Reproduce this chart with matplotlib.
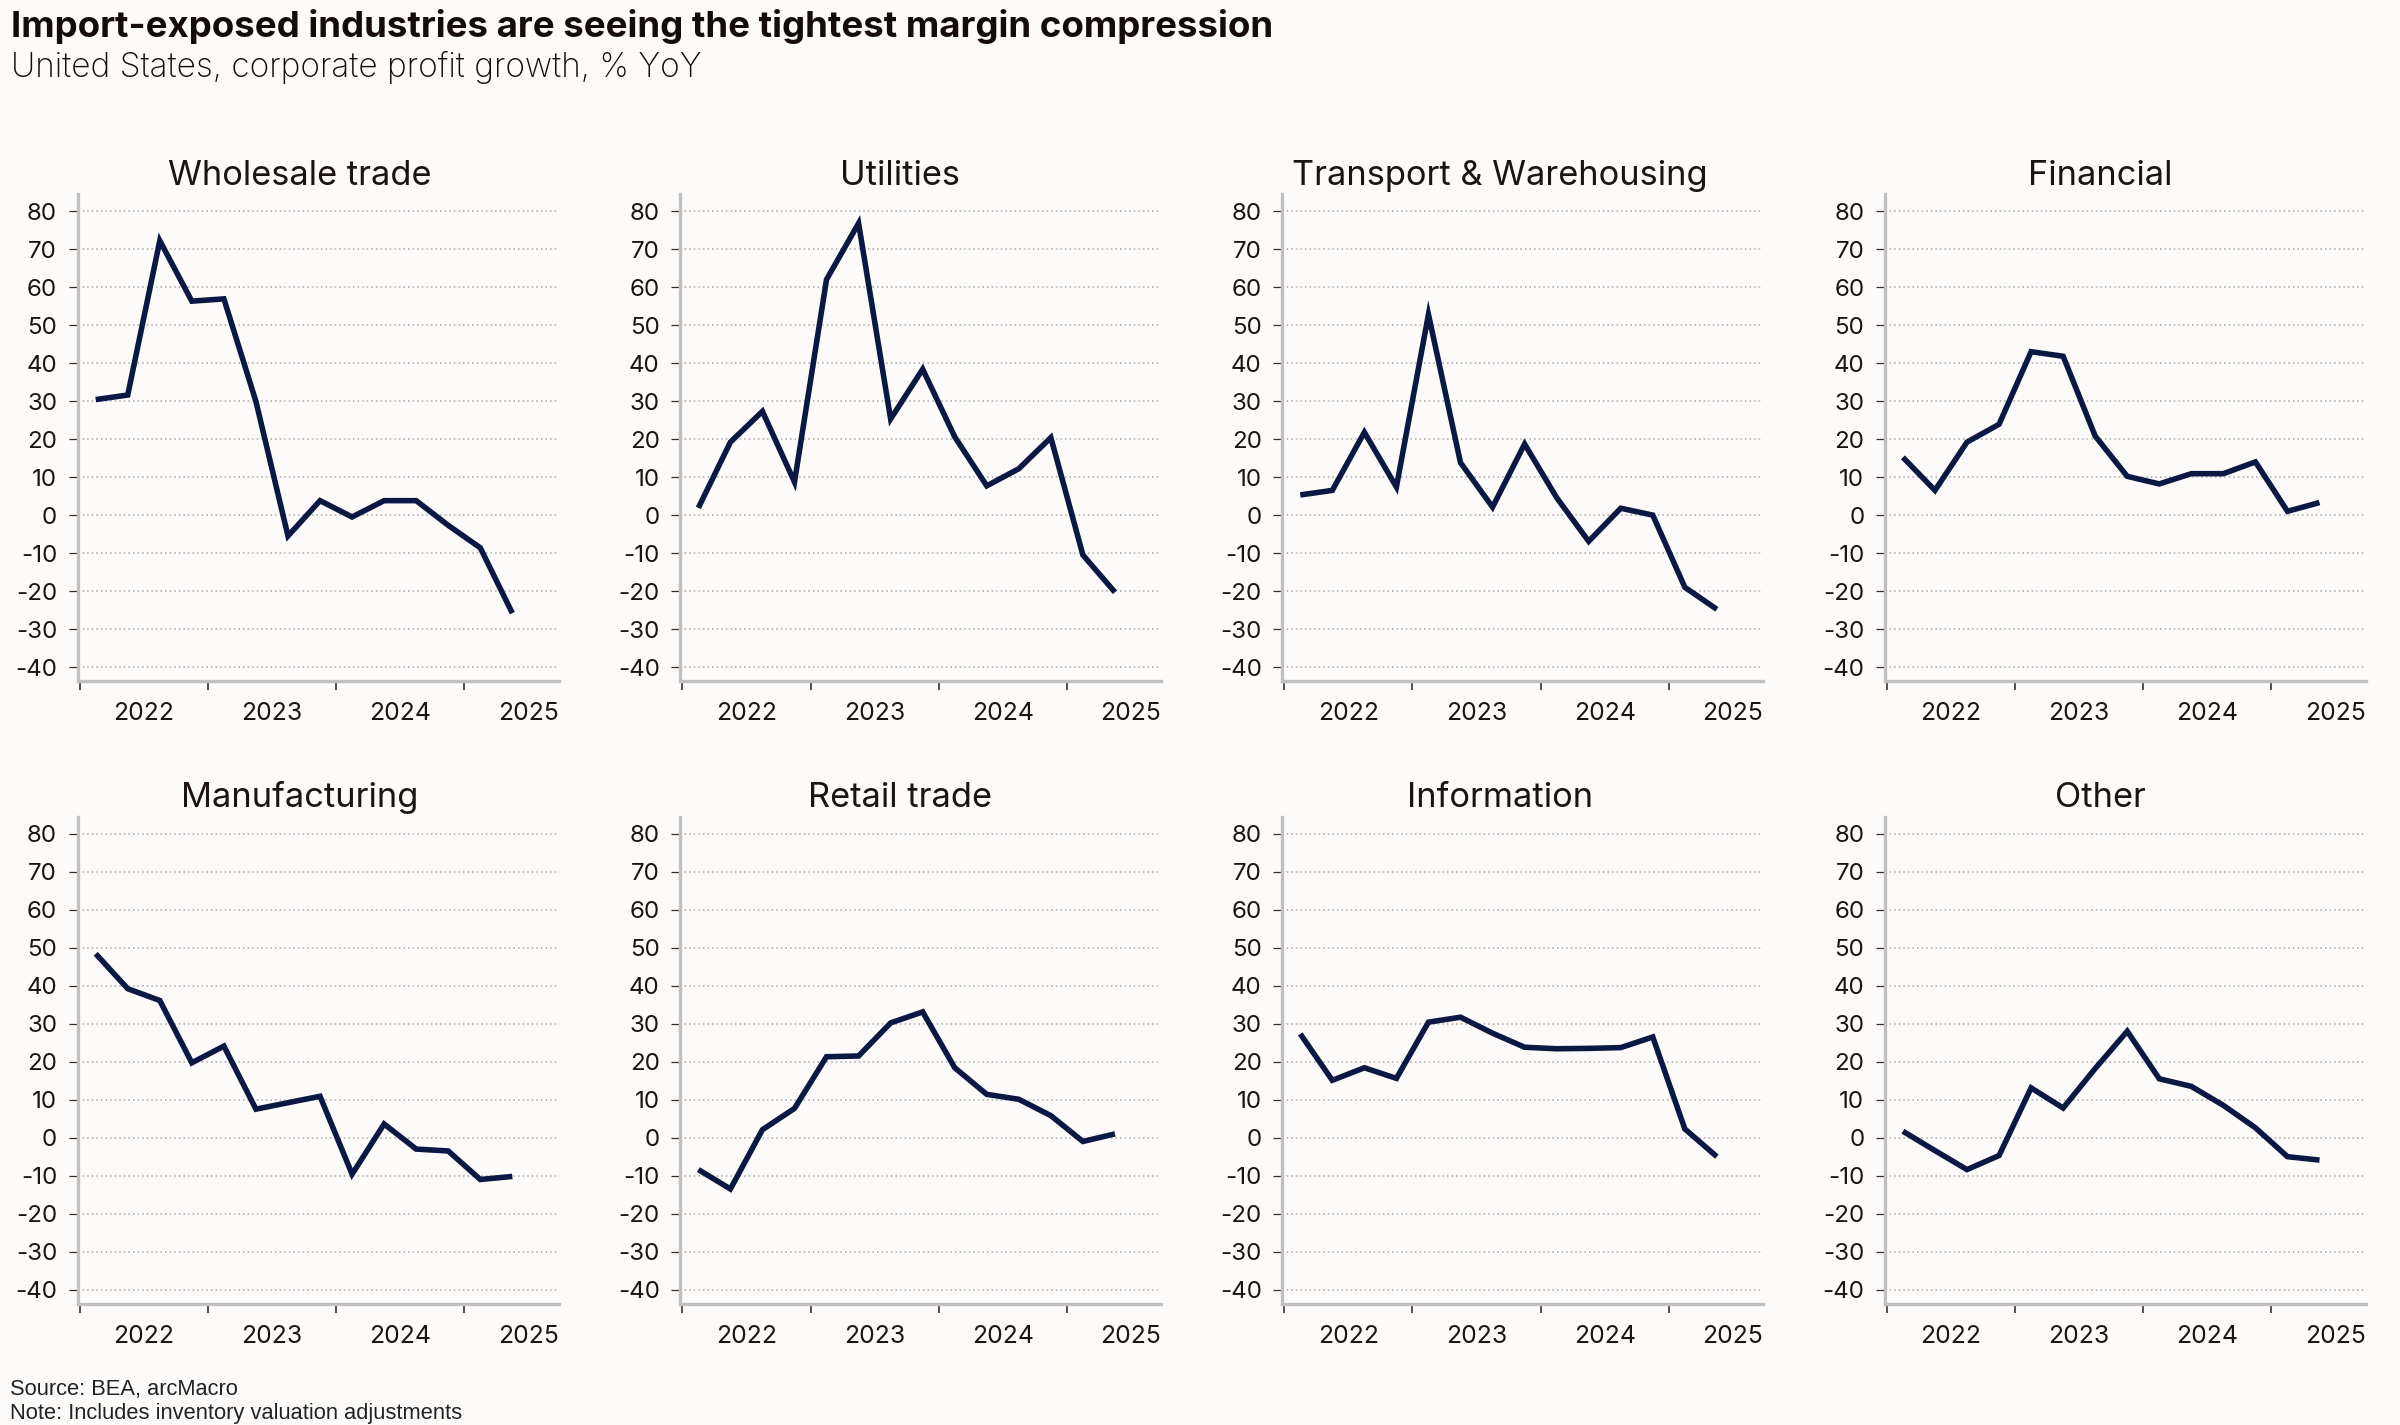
import matplotlib
matplotlib.use("Agg")
import matplotlib.pyplot as plt
from matplotlib.ticker import FixedLocator, NullFormatter, FixedFormatter

# ---------------- data ----------------
quarters = ["2022Q1", "2022Q2", "2022Q3", "2022Q4",
            "2023Q1", "2023Q2", "2023Q3", "2023Q4",
            "2024Q1", "2024Q2", "2024Q3", "2024Q4",
            "2025Q1", "2025Q2"]

panel_titles = ["Wholesale trade", "Utilities", "Transport & Warehousing", "Financial",
                "Manufacturing", "Retail trade", "Information", "Other"]

wholesale = [30.4, 31.6, 72.2, 56.3, 56.9, 29.9, -5.5, 3.8, -0.5, 3.8, 3.8, -2.7, -8.6, -25.8]
utilities = [1.9, 19.2, 27.3, 8.7, 62.0, 76.8, 25.3, 38.4, 20.6, 7.7, 12.2, 20.4, -10.5, -20.3]
transport = [5.3, 6.5, 21.8, 7.4, 52.8, 13.8, 2.1, 18.7, 4.6, -6.9, 1.8, 0.0, -19.0, -24.8]
financial = [15.2, 6.5, 19.2, 23.9, 43.0, 41.8, 20.8, 10.2, 8.2, 10.9, 10.9, 14.0, 1.0, 3.3]
manufacturing = [48.4, 39.2, 36.1, 19.7, 24.1, 7.5, 9.2, 10.9, -9.6, 3.6, -3.0, -3.5, -11.0, -10.2]
retail = [-8.4, -13.5, 2.1, 7.7, 21.3, 21.5, 30.2, 33.1, 18.4, 11.4, 10.1, 5.8, -1.0, 1.0]
information = [27.3, 15.1, 18.4, 15.6, 30.4, 31.7, 27.5, 23.8, 23.4, 23.5, 23.7, 26.5, 2.3, -5.0]
other = [1.7, -3.4, -8.4, -4.7, 13.1, 7.8, 18.2, 28.0, 15.5, 13.5, 8.5, 2.6, -5.0, -5.9]

series = [wholesale, utilities, transport, financial,
          manufacturing, retail, information, other]

years = [2022, 2023, 2024, 2025]
year_labels = ["2022", "2023", "2024", "2025"]
y_ticks = [80, 70, 60, 50, 40, 30, 20, 10, 0, -10, -20, -30, -40]

title = "Import-exposed industries are seeing the tightest margin compression"
subtitle = "United States, corporate profit growth, % YoY"
source = "Source: BEA, arcMacro"
note = "Note: Includes inventory valuation adjustments"

# ---------------- style ----------------
BG = "#fdfbfa"
LINE = "#0b1844"
TXT = "#1c1414"
SPINE = "#c0c0c0"
GRID = "#a8a8a8"
FONT = ["Inter", "DejaVu Sans"]

def qpos(q):
    y = int(q[:4]); n = int(q[-1])
    return y + (n - 0.5) / 4.0

xs = [qpos(q) for q in quarters]

fig = plt.figure(figsize=(12, 7.125), dpi=200, facecolor=BG)

lefts = [0.0324, 0.2835, 0.5343, 0.7854]
width = 0.2004
bottoms = [0.5220, 0.0851]
height = 0.3416
title_y = [0.8703, 0.4335]

for i, (name, vals) in enumerate(zip(panel_titles, series)):
    r, c = divmod(i, 4)
    ax = fig.add_axes([lefts[c], bottoms[r], width, height])
    ax.set_facecolor(BG)
    ax.plot(xs, vals, color=LINE, lw=2.0, solid_joinstyle="miter", solid_capstyle="butt", zorder=3)
    ax.set_xlim(2021.985, 2025.737)
    ax.set_ylim(-43.7, 84.4)
    for s in ["top", "right"]:
        ax.spines[s].set_visible(False)
    for s in ["left", "bottom"]:
        ax.spines[s].set_color(SPINE)
        ax.spines[s].set_linewidth(1.2)
    ax.set_yticks(y_ticks)
    ax.set_yticklabels([str(v) for v in y_ticks], family=FONT, fontsize=8.7, color=TXT)
    ax.tick_params(axis="y", length=3.4, width=0.45, color="#3a2a2a", pad=4)
    ax.xaxis.set_major_locator(FixedLocator(years))
    ax.xaxis.set_major_formatter(NullFormatter())
    ax.xaxis.set_minor_locator(FixedLocator([y + 0.5 for y in years]))
    ax.xaxis.set_minor_formatter(FixedFormatter(year_labels))
    ax.tick_params(axis="x", which="major", length=3.3, width=0.55, color="#2a1f1f")
    ax.tick_params(axis="x", which="minor", length=0, pad=7.5, labelsize=8.9, labelcolor=TXT)
    for lab in ax.get_xticklabels(minor=True):
        lab.set_family(FONT)
    ax.grid(axis="y", color=GRID, lw=0.55, linestyle=(0, (1, 2)), zorder=0)
    ax.set_axisbelow(True)
    fig.text((c + 0.5) / 4, title_y[r], name, ha="center", va="baseline",
             fontsize=12.4, color=TXT, family=FONT)

fig.text(0.0045, 0.9742, title, ha="left", va="baseline", fontsize=13.2,
         fontweight="bold", color="#140c0c", family=FONT)
fig.text(0.0045, 0.9457, subtitle, ha="left", va="baseline", fontsize=12,
         fontweight="light", color="#140c0c", family=FONT)
fig.text(0.004, 0.0211, source, ha="left", va="baseline", fontsize=7.9,
         color="#222222", family=["Liberation Sans", "DejaVu Sans"])
fig.text(0.004, 0.0042, note, ha="left", va="baseline", fontsize=7.9,
         color="#222222", family=["Liberation Sans", "DejaVu Sans"])

fig.savefig("out.png", dpi=200, facecolor=BG)
